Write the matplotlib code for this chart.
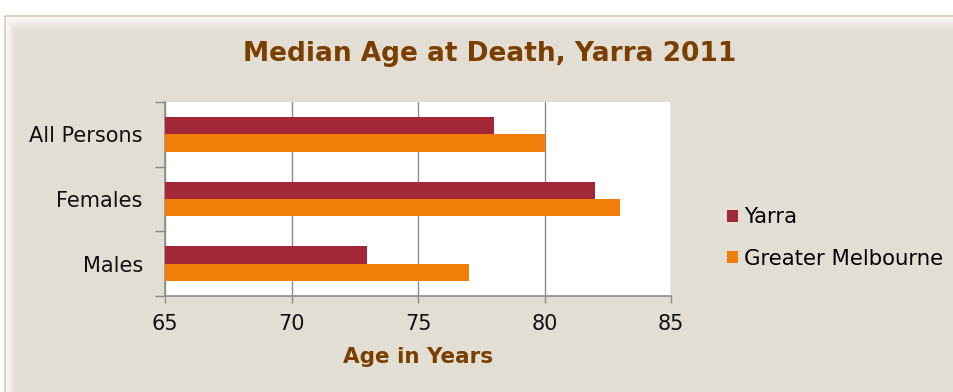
import matplotlib
matplotlib.use("Agg")

import matplotlib.pyplot as plt
import numpy as np
from matplotlib.patches import Rectangle

categories = ["Males", "Females", "All Persons"]
yarra = [73, 82, 78]
greater_melbourne = [77, 83, 80]
x_ticks = [65, 70, 75, 80, 85]

YARRA_COLOR = "#A22838"
MELB_COLOR = "#F07F0A"
PANEL_COLOR = "#E3DED3"
BROWN = "#7A3E00"
AXIS_GRAY = "#8C8C8C"

W, H = 954, 392
fig = plt.figure(figsize=(W / 100, H / 100), dpi=100, facecolor="white")

# panel background with a soft shadow along the top and left edges
bg = fig.add_axes([0, 0, 1, 1])
bg.set_xlim(0, W)
bg.set_ylim(H, 0)
bg.axis("off")
panel = np.ones((H - 17, W - 6, 3)) * np.array(matplotlib.colors.to_rgb(PANEL_COLOR))
fade_top = np.clip(np.arange(H - 17) / 14.0, 0, 1)[:, None, None]
fade_left = np.clip(np.arange(W - 6) / 10.0, 0, 1)[None, :, None]
fade = np.minimum(fade_top, fade_left)
panel = panel * fade + (1 - fade) * np.array([0.98, 0.975, 0.96])
bg.imshow(panel, extent=(6, W, H, 17), aspect="auto", interpolation="bilinear")
bg.add_patch(Rectangle((5, 16), W, H, fill=False, edgecolor="#D6CCB4", lw=1.2))

ax = fig.add_axes([165 / W, 96 / H, 506 / W, 194 / H])
ax.set_facecolor("white")

y = np.arange(len(categories))
bar_h = 0.27
ax.barh(y + bar_h / 2, yarra, height=bar_h, color=YARRA_COLOR, label="Yarra", zorder=3)
ax.barh(y - bar_h / 2, greater_melbourne, height=bar_h, color=MELB_COLOR, label="Greater Melbourne", zorder=3)

ax.set_xlim(65, 85)
ax.set_ylim(-0.5, len(categories) - 0.5)

ax.set_xticks(x_ticks)
ax.xaxis.grid(True, color=AXIS_GRAY, lw=1.0, zorder=1)
ax.tick_params(axis="x", direction="out", length=5, width=1, color=AXIS_GRAY,
               labelsize=15, labelcolor="#111111", pad=8)

# category boundaries get the tick marks, names sit between them
ax.set_yticks(np.arange(-0.5, len(categories), 1.0))
ax.set_yticklabels([])
ax.set_yticks(y, minor=True)
ax.set_yticklabels(categories, minor=True)
ax.tick_params(axis="y", which="major", direction="out", length=7, width=1, color=AXIS_GRAY)
ax.tick_params(axis="y", which="minor", length=0, labelsize=15, labelcolor="#111111", pad=16)

for side in ["top", "right"]:
    ax.spines[side].set_visible(False)
for side in ["left", "bottom"]:
    ax.spines[side].set_color(AXIS_GRAY)
    ax.spines[side].set_linewidth(1.2)

ax.set_xlabel("Age in Years", fontsize=15.5, fontweight="bold", color=BROWN, labelpad=9)

fig.text(490 / W, 1 - 54 / H, "Median Age at Death, Yarra 2011", ha="center", va="center",
         fontsize=19, fontweight="bold", color=BROWN)

fig.legend(loc="center left", bbox_to_anchor=(727 / W, 1 - 238 / H), frameon=False,
           fontsize=15.3, handlelength=0.5, handleheight=0.5, handletextpad=0.3,
           labelspacing=1.0, borderaxespad=0, borderpad=0)

fig.savefig("out.png", dpi=100, facecolor="white")
